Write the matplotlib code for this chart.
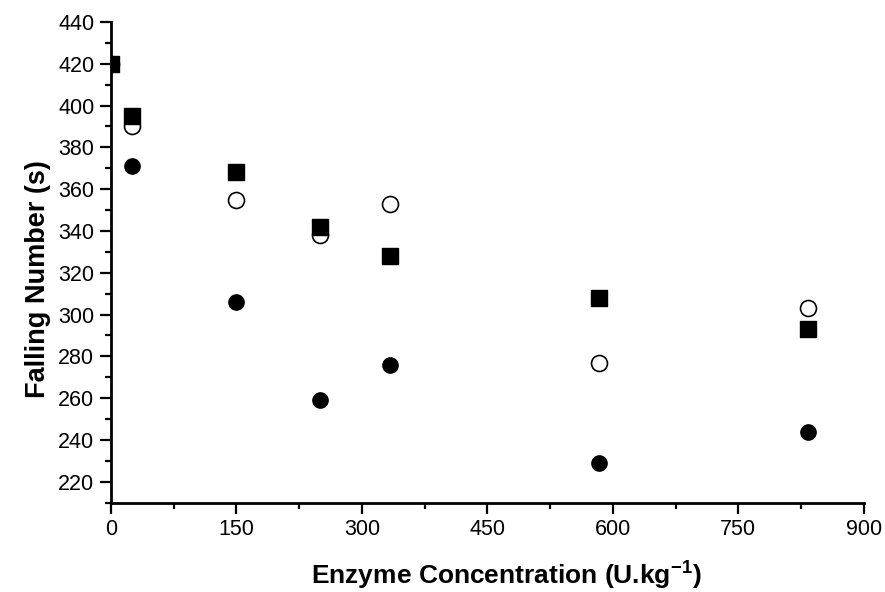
import matplotlib.pyplot as plt
from matplotlib.ticker import MultipleLocator

plt.rcParams['font.family'] = ['Liberation Sans', 'DejaVu Sans']
plt.rcParams['mathtext.fontset'] = 'custom'
plt.rcParams['mathtext.bf'] = 'Liberation Sans:bold'
plt.rcParams['mathtext.rm'] = 'Liberation Sans:bold'

# enzyme concentration (U/kg)
conc = [0, 25, 150, 250, 333, 583, 833]

# falling number (s) for the three series
fn_filled = [420, 371, 306, 259, 276, 229, 244]
fn_open = [420, 390, 355, 338, 353, 277, 303]
fn_square = [420, 395, 368, 342, 328, 308, 293]

fig = plt.figure(figsize=(8.85, 5.92), dpi=100)
ax = fig.add_axes([0.1254, 0.151, 0.8506, 0.812])

# scatter collections get cut at the axes edge (x=0 points half hidden)
ax.scatter(conc, fn_open, s=11.5**2, marker='o', facecolor='white',
           edgecolor='black', linewidth=1.2, zorder=3)
ax.scatter(conc, fn_square, s=11**2, marker='s', color='black', zorder=4)
ax.scatter(conc, fn_filled, s=11**2, marker='o', color='black', zorder=5)

ax.set_xlim(0, 900)
ax.set_ylim(210, 440)
ax.xaxis.set_major_locator(MultipleLocator(150))
ax.xaxis.set_minor_locator(MultipleLocator(75))
ax.yaxis.set_minor_locator(MultipleLocator(10))
ax.set_yticks(range(220, 441, 20))

for side in ['top', 'right']:
    ax.spines[side].set_visible(False)
for side in ['left', 'bottom']:
    ax.spines[side].set_linewidth(2)

ax.tick_params(which='major', direction='out', length=8, width=1.6,
               labelsize=15.5, pad=4)
ax.tick_params(which='minor', direction='out', length=4, width=1.6)

ax.set_xlabel('Enzyme Concentration (U.kg$^{\\mathbf{-1}}$)', fontsize=19,
              fontweight='bold')
ax.set_ylabel('Falling Number (s)', fontsize=19.5, fontweight='bold')
ax.xaxis.set_label_coords(0.525, -0.115)
ax.yaxis.set_label_coords(-0.08, 0.465)

fig.savefig('out.png', dpi=100)
